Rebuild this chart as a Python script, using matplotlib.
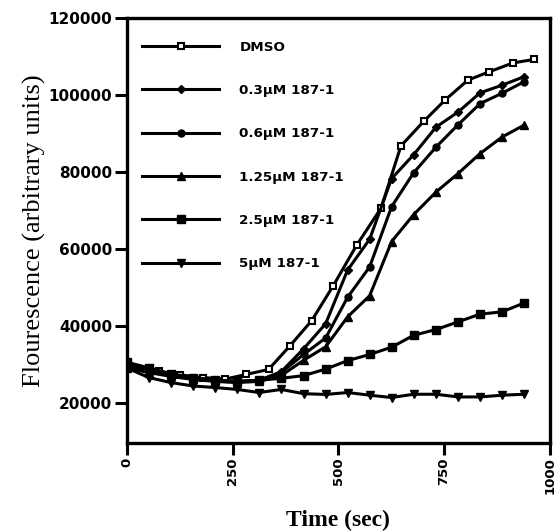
import matplotlib
matplotlib.use("Agg")
import matplotlib.pyplot as plt

# time points (sec); DMSO was read a little later
t_dmso = [24, 77, 126, 180, 233, 282, 335, 386, 437, 488, 543, 601, 648, 702, 752, 806, 857, 913, 963]
t = [0, 52, 104, 157, 209, 261, 313, 365, 418, 470, 522, 574, 626, 678, 731, 783, 835, 887, 939]

dmso = [29100, 28100, 27200, 26500, 26100, 27300, 28600, 34800, 41300, 50400, 60900, 70600, 86800, 93200, 98700, 103900, 106100, 108400, 109300]
c03 = [29500, 28000, 27200, 26300, 25600, 25300, 25800, 28000, 34000, 40500, 54500, 62500, 78300, 84500, 91700, 95600, 100600, 102600, 104800]
c06 = [30000, 28500, 27300, 26500, 25800, 25500, 25800, 27800, 32500, 36800, 47400, 55300, 71000, 79800, 86500, 92300, 97800, 100500, 103500]
c125 = [29000, 27800, 26800, 26000, 25500, 25200, 25500, 27000, 31000, 34500, 42300, 47800, 61900, 68900, 74800, 79600, 84800, 89100, 92200]
c25 = [30500, 29000, 27500, 26500, 25800, 25500, 25800, 26300, 27000, 28700, 30900, 32500, 34400, 37500, 39000, 41000, 43000, 43600, 45900]
c5 = [29000, 26500, 25200, 24300, 23900, 23400, 22600, 23400, 22300, 22100, 22600, 21900, 21300, 22150, 22150, 21450, 21450, 21900, 22150]

labels = ["DMSO", "0.3\u03bcM 187-1", "0.6\u03bcM 187-1", "1.25\u03bcM 187-1",
          "2.5\u03bcM 187-1", "5\u03bcM 187-1"]

fig = plt.figure(figsize=(5.56, 5.31), dpi=100)
ax = fig.add_axes([0.228, 0.166, 0.761, 0.7995])

lw = 2.2
ax.plot(t_dmso, dmso, '-s', color='black', lw=lw, ms=5, mfc='white', mec='black', mew=1.5, label=labels[0])
ax.plot(t, c03, '-D', color='black', lw=lw, ms=4.5, label=labels[1])
ax.plot(t, c06, '-o', color='black', lw=lw, ms=5, label=labels[2])
ax.plot(t, c125, '-^', color='black', lw=lw, ms=6, label=labels[3])
ax.plot(t, c25, '-s', color='black', lw=lw, ms=5.5, label=labels[4])
ax.plot(t, c5, '-v', color='black', lw=lw, ms=6, label=labels[5])

ax.set_xlim(0, 1000)
ax.set_ylim(9500, 120000)
ax.set_xticks([0, 250, 500, 750, 1000])
ax.set_yticks([20000, 40000, 60000, 80000, 100000, 120000])

for s in ax.spines.values():
    s.set_linewidth(2.4)
ax.tick_params(width=2.2, length=8.5, pad=2, direction='out')
for lab in ax.get_xticklabels():
    lab.set_rotation(90)
    lab.set_fontfamily('DejaVu Sans')
    lab.set_fontweight('bold')
    lab.set_fontsize(9.5)
for lab in ax.get_yticklabels():
    lab.set_fontfamily('DejaVu Sans')
    lab.set_fontweight('bold')
    lab.set_fontsize(11)

ax.set_xlabel("Time (sec)", family='Liberation Serif', fontsize=17, fontweight='bold', labelpad=11)
ax.set_ylabel("Flourescence (arbitrary units)", family='Liberation Serif', fontsize=19, labelpad=2)

leg = ax.legend(loc='upper left', bbox_to_anchor=(0.005, 0.979), frameon=False, numpoints=1,
                handlelength=5.7, handletextpad=1.5, labelspacing=2.25, borderaxespad=0.6,
                prop={'family': 'DejaVu Sans', 'weight': 'bold', 'size': 9.7})

fig.savefig("out.png", dpi=100)
